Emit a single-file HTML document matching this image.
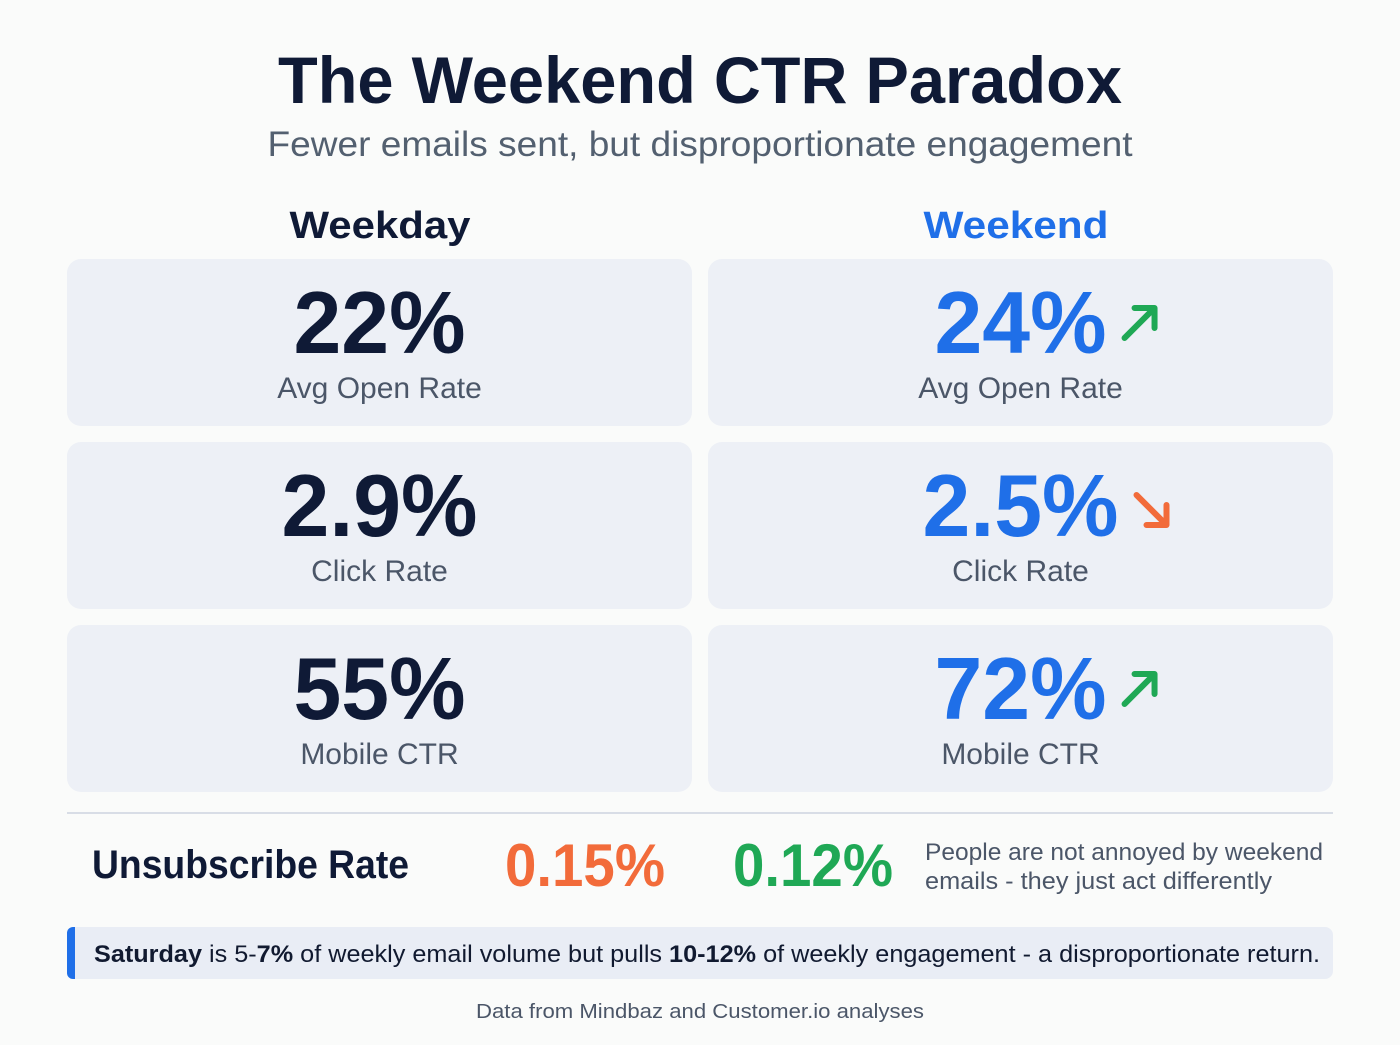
<!DOCTYPE html>
<html><head><meta charset="utf-8"><style>
html,body{margin:0;padding:0;background:#fafbfa;}
svg{display:block;font-family:"Liberation Sans",Arial,sans-serif;}
</style></head><body>
<svg width="1400" height="1045" viewBox="0 0 1400 1045">
<rect x="0" y="0" width="1400" height="1045" fill="#fafbfa"/>
<text x="700" y="103" text-anchor="middle" font-size="66" font-weight="bold" fill="#0f1a36" textLength="844" lengthAdjust="spacingAndGlyphs">The Weekend CTR Paradox</text>
<text x="700" y="156" text-anchor="middle" font-size="35" fill="#536070" textLength="865" lengthAdjust="spacingAndGlyphs">Fewer emails sent, but disproportionate engagement</text>
<text x="380" y="238" text-anchor="middle" font-size="38" font-weight="bold" fill="#0f1a36" textLength="181" lengthAdjust="spacingAndGlyphs">Weekday</text>
<text x="1016" y="238" text-anchor="middle" font-size="38" font-weight="bold" fill="#1f6fe8" textLength="185" lengthAdjust="spacingAndGlyphs">Weekend</text>
<g id="cards"></g>
<line x1="67" y1="813" x2="1333" y2="813" stroke="#d8dde6" stroke-width="2"/>
<text x="92" y="878" font-size="40" font-weight="bold" fill="#0f1a36" textLength="317" lengthAdjust="spacingAndGlyphs">Unsubscribe Rate</text>
<text x="505" y="886" font-size="60" font-weight="bold" fill="#f26b3a" textLength="160" lengthAdjust="spacingAndGlyphs">0.15%</text>
<text x="733" y="886" font-size="60" font-weight="bold" fill="#1fa855" textLength="160" lengthAdjust="spacingAndGlyphs">0.12%</text>
<text x="925" y="860" font-size="24" fill="#4b5668" textLength="398" lengthAdjust="spacingAndGlyphs">People are not annoyed by weekend</text>
<text x="925" y="889" font-size="24" fill="#4b5668" textLength="347" lengthAdjust="spacingAndGlyphs">emails - they just act differently</text>
<rect x="67" y="927" width="1266" height="52" rx="8" fill="#e9edf5"/>
<path d="M75 927 h-2 a6 6 0 0 0 -6 6 v40 a6 6 0 0 0 6 6 h2 z" fill="#1f6fe8"/>
<text x="94" y="962" font-size="24" fill="#111a30" textLength="1226" lengthAdjust="spacingAndGlyphs"><tspan font-weight="bold">Saturday</tspan> is 5-<tspan font-weight="bold">7%</tspan> of weekly email volume but pulls <tspan font-weight="bold">10-12%</tspan> of weekly engagement - a disproportionate return.</text>
<text x="700" y="1018" text-anchor="middle" font-size="20" fill="#4b5668" textLength="448" lengthAdjust="spacingAndGlyphs">Data from Mindbaz and Customer.io analyses</text>
</svg>
<script>
const metricLabels = ["Avg Open Rate", "Click Rate", "Mobile CTR"];
const weekdayValues = ["22%", "2.9%", "55%"];
const weekendValues = ["24%", "2.5%", "72%"];
const weekendTrend = ["up", "down", "up"];
const NS = "http://www.w3.org/2000/svg";
const g = document.getElementById("cards");
function mk(tag, attrs, parent){const e=document.createElementNS(NS,tag);for(const k in attrs)e.setAttribute(k,attrs[k]);parent.appendChild(e);return e;}
function numWidth(s){let w=0;for(const c of s){w+= c==="."?0.278:(c==="%"?0.889:0.556);}return w;}
metricLabels.forEach((lab,i)=>{
  const y = 259 + i*183;
  [[67,weekdayValues[i],"#0f1a36","weekday"],[708,weekendValues[i],"#1f6fe8","weekend"]].forEach(([x,val,col,side])=>{
    const r = mk("rect",{x:x,y:y,width:625,height:167,rx:14,fill:"#edf0f6"},g);
    
    
    const cx = x + 312.5;
    const t = mk("text",{x:cx,y:y+94,"text-anchor":"middle","font-size":88,"font-weight":"bold",fill:col,textLength:Math.round(numWidth(val)*86),lengthAdjust:"spacingAndGlyphs"},g);
    t.textContent = val;
    
    
    const l = mk("text",{x:cx,y:y+139,"text-anchor":"middle","font-size":30,fill:"#4b5668"},g);
    l.textContent = lab;
    
    
    if(side==="weekend"){
      const half = numWidth(val)*86/2;
      const ax = cx + half + 18;
      const up = weekendTrend[i]==="up";
      const color = up ? "#1fa855" : "#f26b3a";
      const ay = y + 65;
      const d = up ? `M${ax} ${ay+14} L${ax+30} ${ay-16} M${ax+10} ${ay-16} L${ax+30} ${ay-16} L${ax+30} ${ay+4}`
                   : `M${ax} ${ay-12} L${ax+30} ${ay+18} M${ax+10} ${ay+18} L${ax+30} ${ay+18} L${ax+30} ${ay-2}`;
      const a = mk("path",{d:d,stroke:color,"stroke-width":6,fill:"none","stroke-linecap":"round","stroke-linejoin":"round"},g);
      
      
    }
  });
});
</script>
</body></html>
